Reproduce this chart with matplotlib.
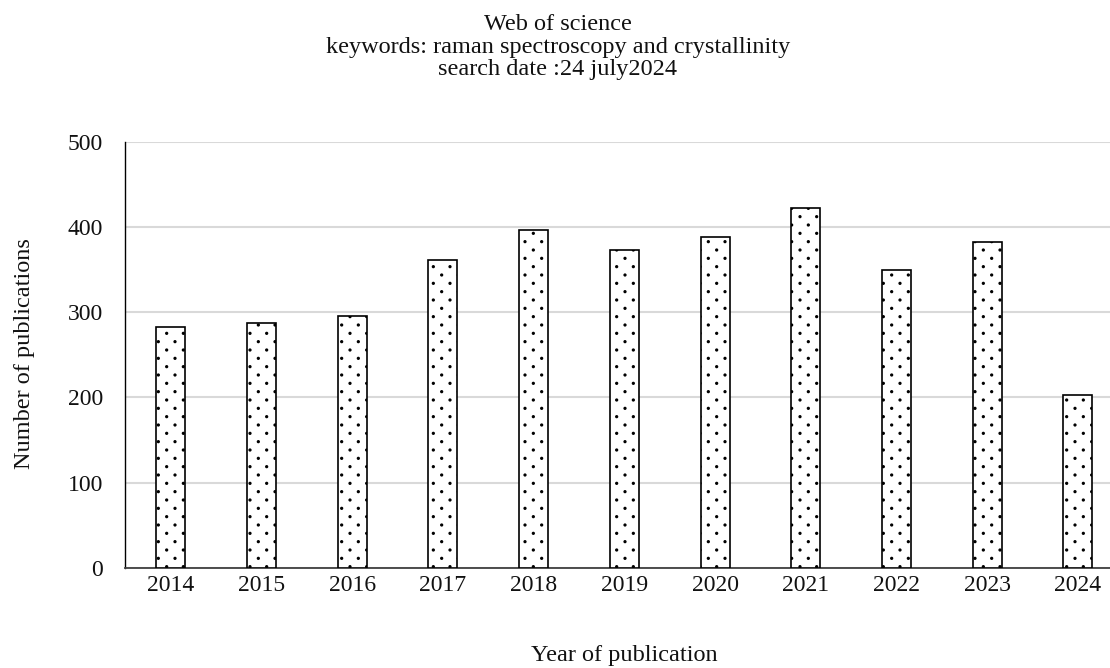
import matplotlib
matplotlib.use("Agg")
import matplotlib.pyplot as plt
import matplotlib.hatch as mhatch
from matplotlib.path import Path
import numpy as np

## Data
years = ["2014", "2015", "2016", "2017", "2018", "2019",
         "2020", "2021", "2022", "2023", "2024"]
publications = [283, 287, 296, 361, 397, 373, 388, 422, 350, 382, 203]
yticks = [0, 100, 200, 300, 400, 500]


## Excel-like "dotted" fill: rows twice as close as the columns, staggered
class SparseDots(mhatch.Shapes):
    size = 0.11
    filled = True

    def __init__(self, hatch, density):
        self.num_rows = hatch.count('.') * density
        path = Path.unit_circle()
        self.shape_vertices = path.vertices
        self.shape_codes = path.codes
        n = self.num_rows
        self.num_shapes = (n // 2 + 1) ** 2 + (n // 2) ** 2 if n else 0
        self.num_vertices = self.num_shapes * len(self.shape_vertices)

    def set_vertices_and_codes(self, vertices, codes):
        n = self.num_rows
        offset = 1.0 / n
        shape_vertices = self.shape_vertices * offset * self.size
        v_parts, c_parts = [], []
        for row in range(n + 1):
            if row % 2 == 0:
                cols = np.linspace(0, 1, n // 2 + 1)
            else:
                cols = np.linspace(offset, 1 - offset, n // 2)
            for col in cols:
                v_parts.append(shape_vertices + [col, row * offset])
                c_parts.append(self.shape_codes)
        np.concatenate(v_parts, out=vertices)
        np.concatenate(c_parts, out=codes)


mhatch._hatch_types = [SparseDots if h is mhatch.SmallFilledCircles else h
                       for h in mhatch._hatch_types]

plt.rcParams['font.family'] = ['Liberation Serif', 'DejaVu Serif']
plt.rcParams['hatch.linewidth'] = 1.0

fig = plt.figure(figsize=(11.10, 6.68), dpi=100)
ax = fig.add_axes([0.113, 0.150, 0.899, 0.6375])

x = range(len(years))
ax.bar(x, publications, width=0.32, color='white', edgecolor='black',
       linewidth=1.2, hatch='..', zorder=3)

ax.set_xlim(-0.5, len(years) - 0.5)
ax.set_ylim(0, 500)
ax.set_yticks(yticks)
ax.set_xticks(list(x))
ax.set_xticklabels(years)
ax.tick_params(axis='both', length=0, labelsize=17, colors='#111111')
ax.tick_params(axis='y', pad=16)
ax.tick_params(axis='x', pad=5)
ax.yaxis.grid(True, color='#d9d9d9', linewidth=1.5, zorder=0)

for side in ('top', 'right'):
    ax.spines[side].set_visible(False)
ax.spines['left'].set_color('black')
ax.spines['left'].set_linewidth(1.0)
ax.spines['bottom'].set_color('#404040')
ax.spines['bottom'].set_linewidth(1.3)

fig.text(0.5027, 0.9296, "Web of science\nkeywords: raman spectroscopy and crystallinity\nsearch date :24 july2024",
         ha='center', va='center', fontsize=17.5, linespacing=1.08, color='#111111')
fig.text(0.562, 0.019, "Year of publication", ha='center', va='center',
         fontsize=17.5, color='#111111')
fig.text(0.0225, 0.47, "Number of publications", ha='center', va='center',
         rotation=90, fontsize=17.5, color='#111111')

fig.savefig("out.png", dpi=100)
